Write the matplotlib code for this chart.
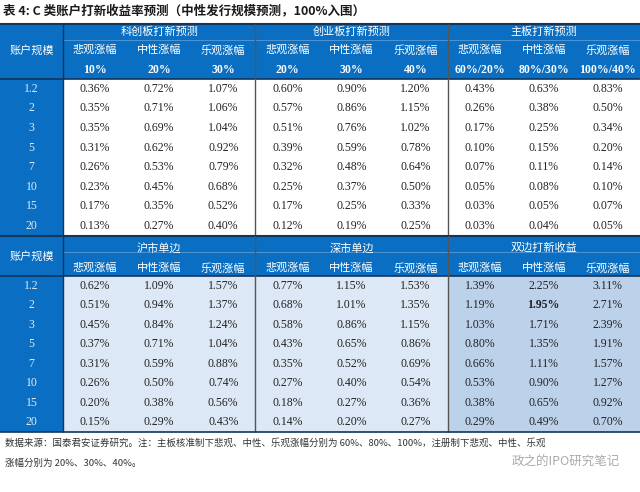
import matplotlib.pyplot as plt
from matplotlib.patches import Rectangle

plt.rcParams["font.family"] = ["Noto Sans CJK SC", "DejaVu Sans"]

sizes = ["1.2", "2", "3", "5", "7", "10", "15", "20"]
top_groups = ["科创板打新预测", "创业板打新预测", "主板打新预测"]
top_cols = ["悲观涨幅", "中性涨幅", "乐观涨幅"] * 3
top_pcts = ["10%", "20%", "30%", "20%", "30%", "40%", "60%/20%", "80%/30%", "100%/40%"]
top_values = [
    ["0.36%", "0.72%", "1.07%", "0.60%", "0.90%", "1.20%", "0.43%", "0.63%", "0.83%"],
    ["0.35%", "0.71%", "1.06%", "0.57%", "0.86%", "1.15%", "0.26%", "0.38%", "0.50%"],
    ["0.35%", "0.69%", "1.04%", "0.51%", "0.76%", "1.02%", "0.17%", "0.25%", "0.34%"],
    ["0.31%", "0.62%", "0.92%", "0.39%", "0.59%", "0.78%", "0.10%", "0.15%", "0.20%"],
    ["0.26%", "0.53%", "0.79%", "0.32%", "0.48%", "0.64%", "0.07%", "0.11%", "0.14%"],
    ["0.23%", "0.45%", "0.68%", "0.25%", "0.37%", "0.50%", "0.05%", "0.08%", "0.10%"],
    ["0.17%", "0.35%", "0.52%", "0.17%", "0.25%", "0.33%", "0.03%", "0.05%", "0.07%"],
    ["0.13%", "0.27%", "0.40%", "0.12%", "0.19%", "0.25%", "0.03%", "0.04%", "0.05%"],
]
bottom_groups = ["沪市单边", "深市单边", "双边打新收益"]
bottom_values = [
    ["0.62%", "1.09%", "1.57%", "0.77%", "1.15%", "1.53%", "1.39%", "2.25%", "3.11%"],
    ["0.51%", "0.94%", "1.37%", "0.68%", "1.01%", "1.35%", "1.19%", "1.95%", "2.71%"],
    ["0.45%", "0.84%", "1.24%", "0.58%", "0.86%", "1.15%", "1.03%", "1.71%", "2.39%"],
    ["0.37%", "0.71%", "1.04%", "0.43%", "0.65%", "0.86%", "0.80%", "1.35%", "1.91%"],
    ["0.31%", "0.59%", "0.88%", "0.35%", "0.52%", "0.69%", "0.66%", "1.11%", "1.57%"],
    ["0.26%", "0.50%", "0.74%", "0.27%", "0.40%", "0.54%", "0.53%", "0.90%", "1.27%"],
    ["0.20%", "0.38%", "0.56%", "0.18%", "0.27%", "0.36%", "0.38%", "0.65%", "0.92%"],
    ["0.15%", "0.29%", "0.43%", "0.14%", "0.20%", "0.27%", "0.29%", "0.49%", "0.70%"],
]

BLUE = "#0A6FC2"
fig = plt.figure(figsize=(6.4, 4.92), dpi=100)
ax = fig.add_axes([0, 0, 1, 1])
ax.set_xlim(0, 640)
ax.set_ylim(492, 0)
ax.axis("off")

x0, wfirst, wcol = 0, 63, 64.1
col_x = [wfirst + i * wcol for i in range(10)]
serif = "Liberation Serif"


def block(top, head_h, row_h, groups, pcts, values, bgs):
    ax.add_patch(Rectangle((0, top), 640, head_h, color=BLUE, lw=0))
    body = top + head_h
    n = len(values)
    ax.add_patch(Rectangle((0, body), wfirst, n * row_h, color=BLUE, lw=0))
    for g in range(3):
        ax.add_patch(Rectangle((col_x[3 * g], body), 3 * wcol, n * row_h, color=bgs[g], lw=0))
        ax.text(col_x[3 * g] + 1.5 * wcol, top + 8 if pcts else top + 12, groups[g],
                ha="center", va="center", color="white", fontsize=8)
    ax.hlines(top, 0, 640, color="#12355B", lw=1.5)
    ax.hlines(top + 16, wfirst, 640, color="#5B9BD5", lw=0.6)
    ax.hlines(body, 0, 640, color="#12355B", lw=1.2)
    for g in range(1, 3):
        ax.vlines(col_x[3 * g], top, body + n * row_h, color="#555555", lw=1.0)
    ax.vlines(wfirst, top, body + n * row_h, color="#12355B", lw=1.0)
    ax.text(wfirst / 2, top + (26 if pcts else 20), "账户规模", ha="center", va="center",
            color="white", fontsize=8)
    for i, c in enumerate(top_cols):
        cx = col_x[i] + wcol / 2
        ax.text(cx, top + (26 if pcts else 32), c, ha="center", va="center", color="white", fontsize=8)
        if pcts:
            ax.text(cx, top + 46, pcts[i], ha="center", va="center", color="white",
                    fontsize=8.5, fontweight="bold", family=serif)
    for r, row in enumerate(values):
        cy = body + (r + 0.5) * row_h
        ax.text(wfirst / 2, cy, sizes[r], ha="center", va="center", color="#DDEBF7",
                fontsize=8.5, family=serif)
        for i, v in enumerate(row):
            bold = pcts is None and r == 1 and i == 7
            ax.text(col_x[i] + wcol / 2, cy, v, ha="center", va="center", color="#222222",
                    fontsize=8.5, family=serif, fontweight="bold" if bold else "normal")
    ax.hlines(body + n * row_h, 0, 640, color="#12355B", lw=1.2)


ax.text(3, 11, "表 4: C 类账户打新收益率预测（中性发行规模预测，100%入围）", ha="left", va="center",
        fontsize=9, fontweight="bold", color="#1a1a1a")
block(24, 55, 19.6, top_groups, top_pcts, top_values, ["white", "white", "white"])
block(236, 40, 19.5, bottom_groups, None, bottom_values, ["#DCE8F5", "#DCE8F5", "#BCD1EA"])

ax.text(5, 443, "数据来源：国泰君安证券研究。注：主板核准制下悲观、中性、乐观涨幅分别为 60%、80%、100%，注册制下悲观、中性、乐观",
        ha="left", va="center", fontsize=6.8, color="#333333")
ax.text(5, 463, "涨幅分别为 20%、30%、40%。", ha="left", va="center", fontsize=6.8, color="#333333")
ax.text(620, 462, "政之的IPO研究笔记", ha="right", va="center", fontsize=9, color="#AAAAAA")

fig.savefig("out.png", dpi=100)
